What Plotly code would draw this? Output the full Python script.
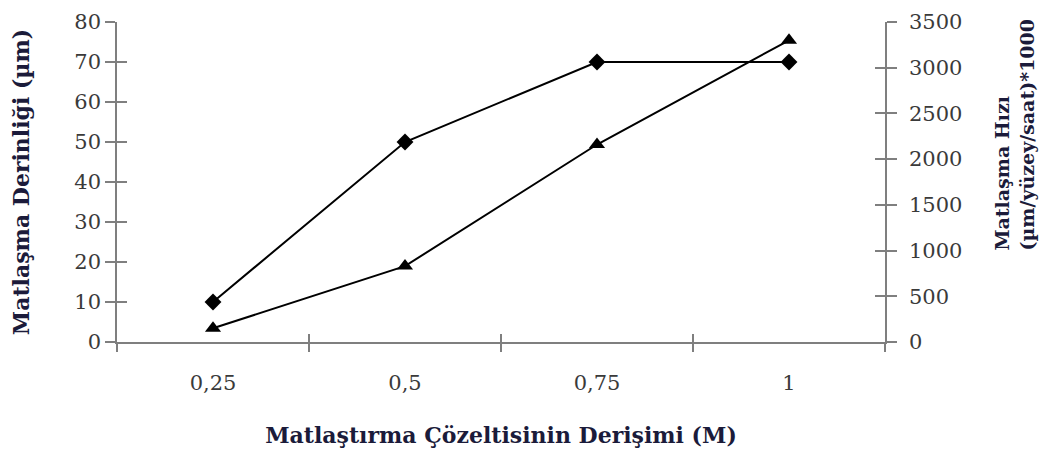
import plotly.graph_objects as go

categories = ["0,25", "0,5", "0,75", "1"]
derinlik = [10, 50, 70, 70]          # left axis, µm
hiz = [150, 830, 2160, 3300]          # right axis, (µm/yüzey/saat)*1000

left_ticks = list(range(0, 81, 10))
right_ticks = list(range(0, 3501, 500))

AX = "#7f7f7f"
TICKFONT = dict(family="DejaVu Serif", size=21, color="#3a3a3a")
TITLEFONT = dict(family="DejaVu Serif", size=22, color="#1b1b3a")
RTITLEFONT = dict(family="DejaVu Serif", size=19, color="#1b1b3a")

fig = go.Figure()
fig.add_trace(go.Scatter(x=categories, y=derinlik, xaxis="x", yaxis="y",
                         mode="lines+markers",
                         line=dict(color="black", width=2),
                         marker=dict(symbol="diamond", size=13, color="black"),
                         showlegend=False))
fig.add_trace(go.Scatter(x=categories, y=hiz, xaxis="x", yaxis="y2",
                         mode="lines+markers",
                         line=dict(color="black", width=2),
                         marker=dict(symbol="triangle-up", size=14, color="black"),
                         showlegend=False))
# invisible helper traces to carry the inner halves of the crossing ticks
fig.add_trace(go.Scatter(x=categories, y=derinlik, xaxis="x2", yaxis="y3",
                         mode="lines", opacity=0, hoverinfo="skip", showlegend=False))
fig.add_trace(go.Scatter(x=categories, y=hiz, xaxis="x2", yaxis="y4",
                         mode="lines", opacity=0, hoverinfo="skip", showlegend=False))

fig.update_layout(
    width=1053, height=450,
    margin=dict(l=109, r=176, t=14, b=116),
    paper_bgcolor="white", plot_bgcolor="white",
    xaxis=dict(type="category", categoryarray=categories, range=[-0.5, 3.5],
               tickson="boundaries", ticks="outside", ticklen=8, tickwidth=1.5,
               tickcolor=AX, showline=True, linecolor=AX, linewidth=1.5,
               showgrid=False, zeroline=False, tickfont=TICKFONT,
               ticklabelstandoff=21, anchor="y", automargin=False,
               title=dict(text="<b>Matlaştırma Çözeltisinin Derişimi (M)</b>",
                          font=TITLEFONT, standoff=34)),
    xaxis2=dict(type="category", categoryarray=categories, range=[-0.5, 3.5],
                overlaying="x", anchor="y", tickson="boundaries", automargin=False,
                ticks="inside", ticklen=8, tickwidth=1.5, tickcolor=AX,
                showticklabels=False, showline=False, showgrid=False, zeroline=False),
    yaxis=dict(range=[0, 80], tickvals=left_ticks, ticks="outside", ticklen=10,
               tickwidth=1.5, tickcolor=AX, showline=True, linecolor=AX,
               linewidth=1.5, showgrid=False, zeroline=False, tickfont=TICKFONT,
               ticklabelstandoff=0, automargin=False,
               title=dict(text="<b>Matlaşma Derinliği (µm)</b>", font=TITLEFONT,
                          standoff=40)),
    yaxis2=dict(range=[0, 3500], tickvals=right_ticks, overlaying="y", side="right",
                anchor="x", ticks="outside", ticklen=10, tickwidth=1.5, tickcolor=AX,
                showline=True, linecolor=AX, linewidth=1.5, showgrid=False,
                zeroline=False, tickfont=TICKFONT, ticklabelstandoff=8, automargin=False),
    yaxis3=dict(range=[0, 80], tickvals=left_ticks, overlaying="y", side="left",
                anchor="x2", ticks="inside", ticklen=10, tickwidth=1.5, tickcolor=AX,
                automargin=False,
                showticklabels=False, showline=False, showgrid=False, zeroline=False),
    yaxis4=dict(range=[0, 3500], tickvals=right_ticks, overlaying="y", side="right",
                anchor="x2", ticks="inside", ticklen=10, tickwidth=1.5, tickcolor=AX,
                automargin=False,
                showticklabels=False, showline=False, showgrid=False, zeroline=False),
    annotations=[dict(text="<b>Matlaşma Hızı<br>(µm/yüzey/saat)*1000</b>",
                      font=RTITLEFONT, textangle=-90, align="left",
                      xref="paper", yref="paper", x=1, y=0.278,
                      xanchor="left", yanchor="bottom", xshift=104,
                      showarrow=False)],
)

fig.write_html("out.html")
